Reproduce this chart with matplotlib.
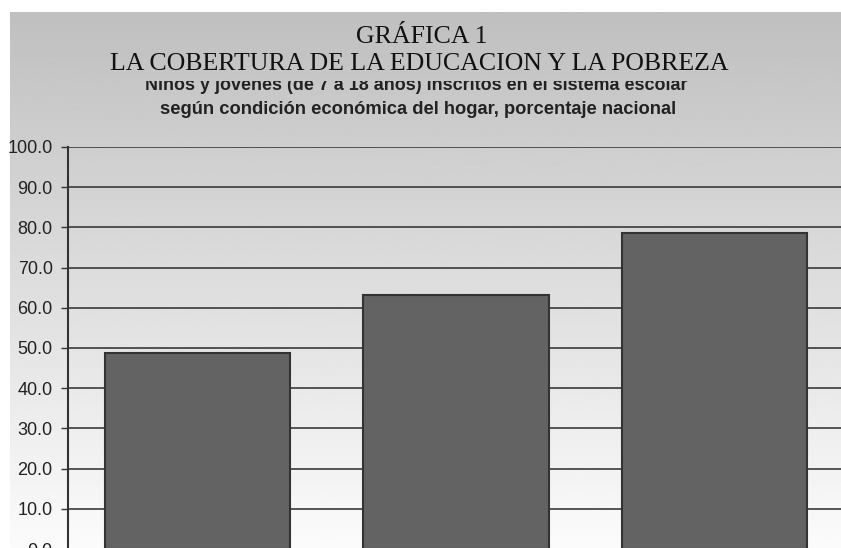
import numpy as np
import matplotlib
matplotlib.use("Agg")
import matplotlib.pyplot as plt
from matplotlib.transforms import Bbox, TransformedBbox

# data (category labels fall below the visible crop)
categories = ["Pobres extremos", "Pobres no extremos", "No pobres"]
values = [48.7, 63.3, 78.5]
yticks = [0, 10, 20, 30, 40, 50, 60, 70, 80, 90, 100]

W, H = 841, 548
fig = plt.figure(figsize=(W / 100, H / 100), dpi=100)
fig.patch.set_facecolor("white")

# grey-to-white gradient behind everything
bg = fig.add_axes([10 / W, 0, 1 - 10 / W, (H - 12) / H], zorder=0)
grad = np.linspace(0.75, 0.985, 256).reshape(-1, 1)
bg.imshow(grad, aspect="auto", cmap="gray", vmin=0, vmax=1,
          extent=[0, 1, 0, 1], origin="upper")
bg.axis("off")

# main axes
left, right = 68, 844
y0, y100 = 549, 147
ax = fig.add_axes([left / W, (H - y0) / H, (right - left) / W, (y0 - y100) / H], zorder=1)
ax.patch.set_alpha(0)

x = np.arange(len(categories))
ax.bar(x, values, width=0.716, color="#636363", edgecolor="#333333",
       linewidth=1.5, zorder=3)
ax.set_xlim(-0.5, len(categories) - 0.5)
ax.set_ylim(0, 100)
ax.set_yticks(yticks)
ax.set_yticklabels([f"{v:.1f}" for v in yticks], fontsize=13,
                   family="Liberation Sans", color="#222222")
ax.yaxis.grid(True, color="#3a3a3a", linewidth=1.2, zorder=1)
ax.tick_params(axis="y", length=5, width=1, color="#333333", pad=6)
ax.set_xticks(x)
ax.set_xticklabels(categories)
ax.tick_params(axis="x", length=0, labelbottom=False)
for s in ["top", "right", "bottom"]:
    ax.spines[s].set_visible(False)
ax.spines["left"].set_color("#333333")
ax.spines["left"].set_linewidth(1.5)

# titles
fig.text(422 / W, 1 - 37 / H, "GRÁFICA 1", ha="center", va="center",
         fontsize=18.6, family="Liberation Serif", color="#111111")
fig.text(419 / W, 1 - 64 / H, "LA COBERTURA DE LA EDUCACION Y LA POBREZA",
         ha="center", va="center", fontsize=18.6, family="Liberation Serif",
         color="#111111")
sub1 = fig.text(416 / W, 1 - 86 / H,
                "Niños y jóvenes (de 7 a 18 años) inscritos en el sistema escolar",
                ha="center", va="center", fontsize=12.9, fontweight="bold",
                family="Liberation Sans", color="#222222")
# the upper part of this line is hidden behind the title box in the original
sub1.set_clip_box(TransformedBbox(Bbox([[0, 0], [1, 1 - 81 / H]]), fig.transFigure))
sub1.set_clip_on(True)
fig.text(418 / W, 1 - 110 / H,
         "según condición económica del hogar, porcentaje nacional",
         ha="center", va="center", fontsize=13.2, fontweight="bold",
         family="Liberation Sans", color="#222222")

fig.savefig("out.png", dpi=100)
